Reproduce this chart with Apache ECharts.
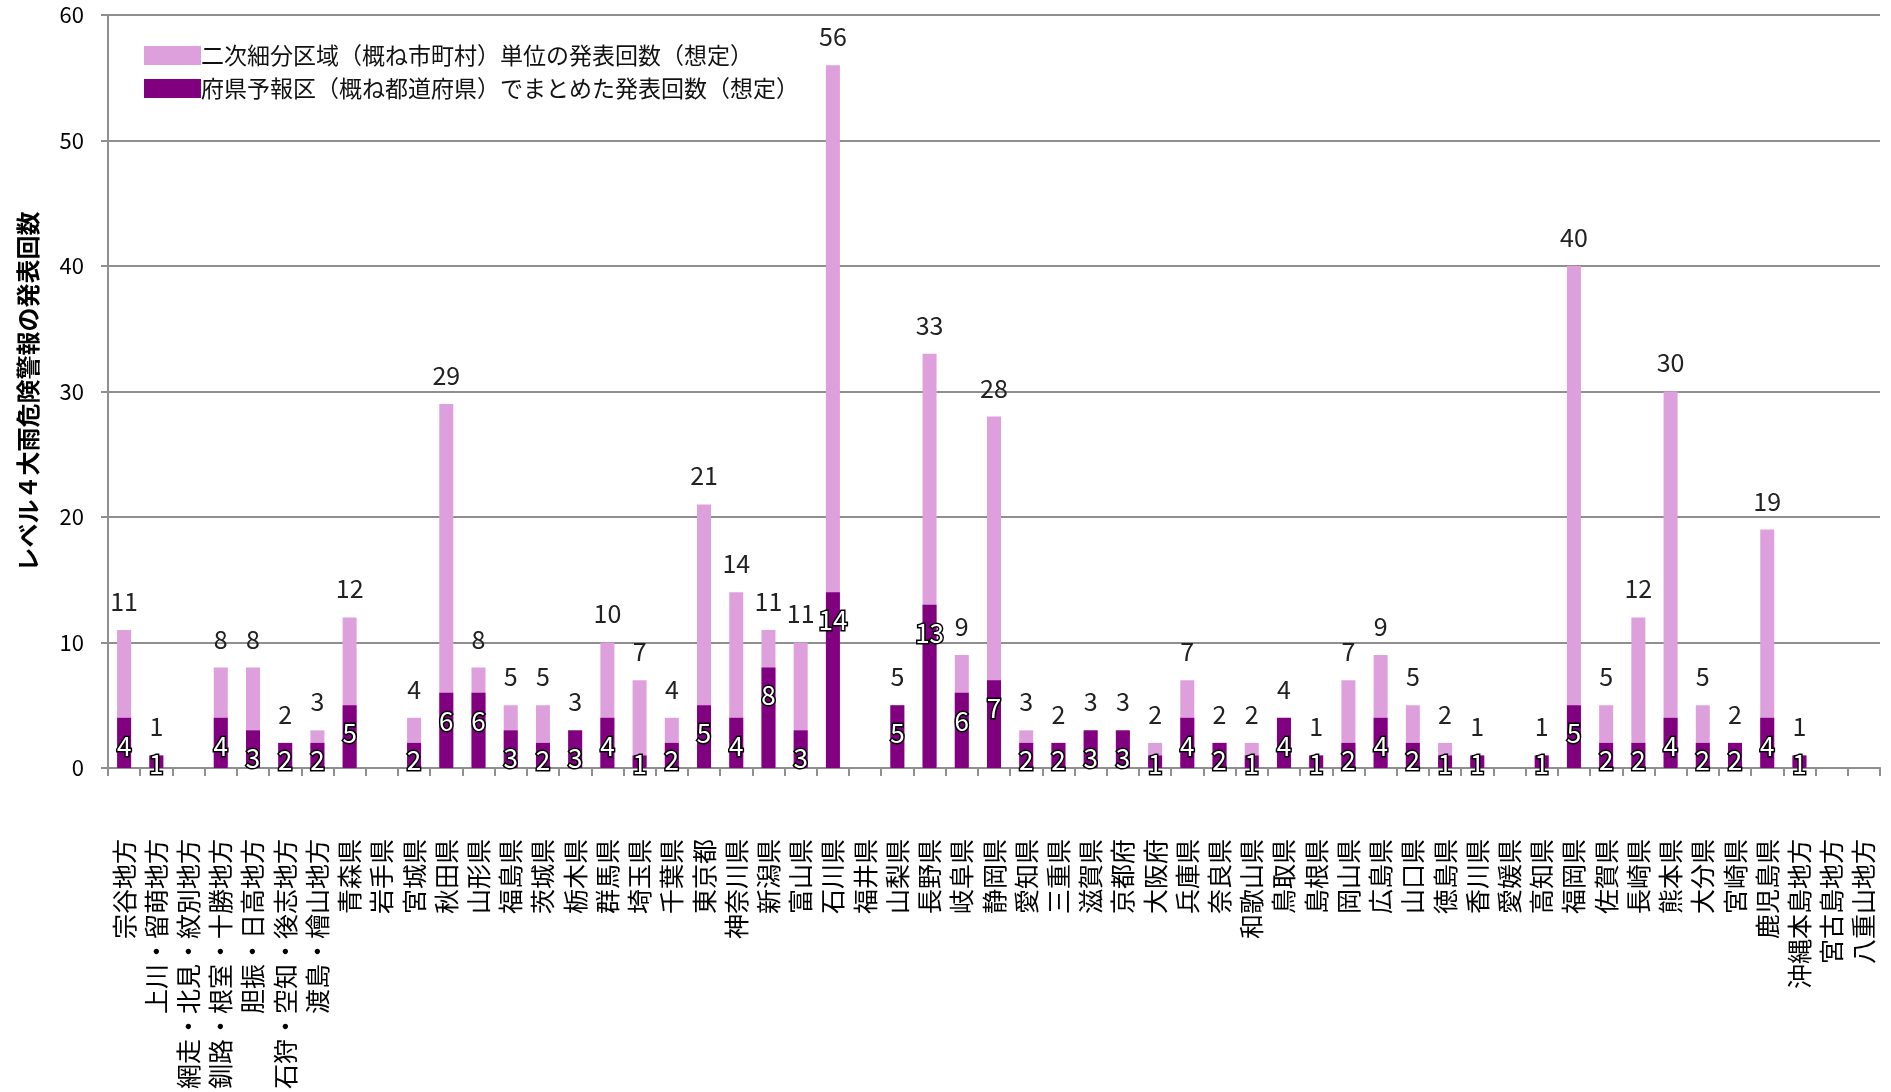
<!DOCTYPE html>
<html>
<head>
<meta charset="utf-8">
<script src="https://cdn.jsdelivr.net/npm/echarts@6/dist/echarts.min.js"></script>
<style>
  html, body { margin: 0; padding: 0; background: #fff; }
  #chart { width: 1891px; height: 1092px; }
</style>
</head>
<body>
<div id="chart"></div>
<script>
// 地域名
const categories = [
  '宗谷地方', '上川・留萌地方', '網走・北見・紋別地方', '釧路・根室・十勝地方', '胆振・日高地方',
  '石狩・空知・後志地方', '渡島・檜山地方', '青森県', '岩手県', '宮城県', '秋田県', '山形県',
  '福島県', '茨城県', '栃木県', '群馬県', '埼玉県', '千葉県', '東京都', '神奈川県', '新潟県',
  '富山県', '石川県', '福井県', '山梨県', '長野県', '岐阜県', '静岡県', '愛知県', '三重県',
  '滋賀県', '京都府', '大阪府', '兵庫県', '奈良県', '和歌山県', '鳥取県', '島根県', '岡山県',
  '広島県', '山口県', '徳島県', '香川県', '愛媛県', '高知県', '福岡県', '佐賀県', '長崎県',
  '熊本県', '大分県', '宮崎県', '鹿児島県', '沖縄本島地方', '宮古島地方', '八重山地方'
];

// 二次細分区域単位（棒の高さ）
const totals = [
  11, 1, null, 8, 8, 2, 3, 12, null, 4, 29, 8,
  5, 5, 3, 10, 7, 4, 21, 14, 11,
  10, 56, null, 5, 33, 9, 28, 3, 2,
  3, 3, 2, 7, 2, 2, 4, 1, 7,
  9, 5, 2, 1, null, 1, 40, 5, 12,
  30, 5, 2, 19, 1, null, null
];
// 図中に書かれている数値（富山県だけ棒と違う）
const totalLabels = [
  11, 1, null, 8, 8, 2, 3, 12, null, 4, 29, 8,
  5, 5, 3, 10, 7, 4, 21, 14, 11,
  11, 56, null, 5, 33, 9, 28, 3, 2,
  3, 3, 2, 7, 2, 2, 4, 1, 7,
  9, 5, 2, 1, null, 1, 40, 5, 12,
  30, 5, 2, 19, 1, null, null
];

// 府県予報区単位
const prefs = [
  4, 1, null, 4, 3, 2, 2, 5, null, 2, 6, 6,
  3, 2, 3, 4, 1, 2, 5, 4, 8,
  3, 14, null, 5, 13, 6, 7, 2, 2,
  3, 3, 1, 4, 2, 1, 4, 1, 2,
  4, 2, 1, 1, null, 1, 5, 2, 2,
  4, 2, 2, 4, 1, null, null
];

const yTicks = { min: 0, max: 60, interval: 10 };
const seriesNames = ['二次細分区域（概ね市町村）単位の発表回数（想定）', '府県予報区（概ね都道府県）でまとめた発表回数（想定）'];

const FONT = '"Noto Sans CJK JP", "Noto Sans", sans-serif';
const gridColor = '#8f8f8f';

// 濃い棒のラベル位置（小さい棒は下端付近に寄せる）
function innerLabel(v) {
  if (v >= 3) return { position: 'insideTop', distance: 15 };
  if (v === 2) return { position: 'insideBottom', distance: -5 };
  return { position: 'insideBottom', distance: -9 };
}

const myChart = echarts.init(document.getElementById('chart'));

const option = {
  animation: false,
  textStyle: { fontFamily: FONT },
  grid: { left: 108, right: 11, top: 15, bottom: 310, containLabel: false },
  legend: {
    orient: 'vertical',
    left: 139,
    top: 39,
    itemWidth: 57,
    itemHeight: 19,
    itemGap: 10,
    icon: 'rect',
    data: seriesNames,
    textStyle: { fontFamily: FONT, fontSize: 23, color: '#111', lineHeight: 23, padding: [0, 0, 0, -5] }
  },
  xAxis: {
    type: 'category',
    data: categories,
    boundaryGap: true,
    axisLine: { lineStyle: { color: gridColor, width: 2 } },
    axisTick: { show: true, length: 8, lineStyle: { color: gridColor, width: 2 } },
    axisLabel: {
      interval: 0,
      rotate: 90,
      margin: 71,
      fontFamily: FONT,
      fontSize: 25,
      color: '#000'
    }
  },
  yAxis: {
    type: 'value',
    min: yTicks.min,
    max: yTicks.max,
    interval: yTicks.interval,
    name: 'レベル４大雨危険警報の発表回数',
    nameLocation: 'middle',
    nameRotate: 90,
    nameGap: 68,
    nameTextStyle: { fontFamily: FONT, fontSize: 24, fontWeight: 'bold', color: '#000' },
    axisLine: { show: true, lineStyle: { color: gridColor, width: 2 } },
    axisTick: { show: true, length: 7, lineStyle: { color: gridColor, width: 2 } },
    axisLabel: { fontFamily: FONT, fontSize: 22, color: '#000', margin: 24 },
    splitLine: { show: true, lineStyle: { color: gridColor, width: 2 } }
  },
  series: [
    {
      name: seriesNames[0],
      type: 'bar',
      barWidth: 14,
      barGap: '-100%',
      itemStyle: { color: '#dda0dd' },
      data: totals,
      label: {
        show: true,
        position: 'top',
        distance: 16,
        fontFamily: FONT,
        fontSize: 25,
        color: '#222',
        formatter: p => totalLabels[p.dataIndex] == null ? '' : String(totalLabels[p.dataIndex])
      }
    },
    {
      name: seriesNames[1],
      type: 'bar',
      barWidth: 14,
      barGap: '-100%',
      itemStyle: { color: '#800080' },
      data: prefs.map(v => v == null ? null : { value: v, label: innerLabel(v) }),
      label: {
        show: true,
        fontFamily: FONT,
        fontSize: 26,
        color: '#fff',
        textBorderColor: '#000',
        textBorderWidth: 3
      }
    }
  ]
};

myChart.setOption(option);
</script>
</body>
</html>
